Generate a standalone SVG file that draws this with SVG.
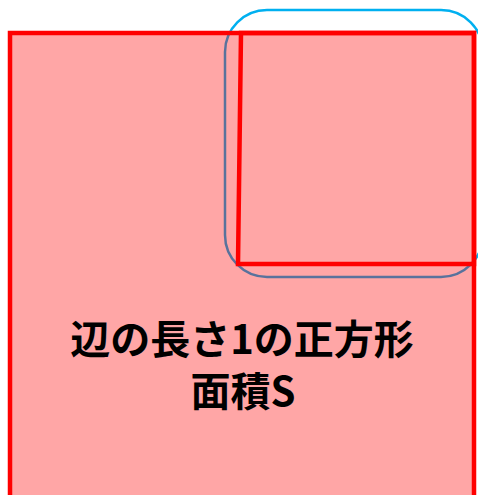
<svg xmlns="http://www.w3.org/2000/svg" width="478" height="495" viewBox="0 0 478 495">
<style>
.red{fill:none;stroke:#FF0000;stroke-width:4.5;stroke-linejoin:miter}
.lbl{font-family:"Noto Sans CJK JP","Noto Sans",sans-serif;font-weight:bold;font-size:40px;fill:#000;text-anchor:middle}
</style>
<g id="blue-region">
<rect x="225" y="10" width="258" height="267" rx="42" ry="42" fill="none" stroke="#00B0F0" stroke-width="2.5"/>
</g>
<g id="big-square">
<rect x="10" y="33" width="464" height="466" fill="#FF0000" fill-opacity="0.35"/>
<rect class="red" x="10" y="33" width="464" height="466"/>
</g>
<g id="small-square">
<path class="red" d="M241,33 L474,33 L474,264 L238,264 Z"/>
</g>
<g id="label">
<text class="lbl"><tspan x="242" y="354">辺の長さ1の正方形</tspan><tspan x="243" y="406">面積S</tspan></text>
</g>
</svg>
